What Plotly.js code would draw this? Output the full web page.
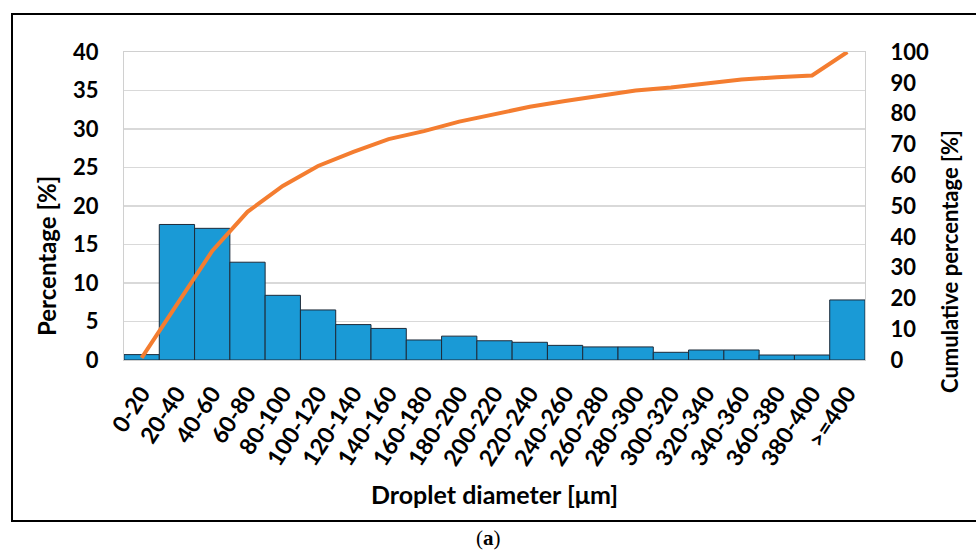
<!DOCTYPE html>
<html>
<head>
<meta charset="utf-8">
<script src="https://cdn.plot.ly/plotly-3.0.1.min.js"></script>
<style>html,body{margin:0;padding:0;background:#fff;}#chart{width:976px;height:551px;}</style>
</head>
<body>
<div id="chart"></div>
<script>
const categories = ["0-20","20-40","40-60","60-80","80-100","100-120","120-140","140-160","160-180","180-200","200-220","220-240","240-260","260-280","280-300","300-320","320-340","340-360","360-380","380-400",">=400"];
const percentage = [0.7,17.6,17.1,12.7,8.4,6.5,4.6,4.1,2.6,3.1,2.5,2.3,1.9,1.7,1.7,1.0,1.3,1.3,0.65,0.65,7.8];
const cumulative = [0.7,18.3,35.4,48.1,56.5,63.0,67.6,71.7,74.3,77.4,79.9,82.2,84.1,85.8,87.5,88.5,89.8,91.1,91.8,92.4,100];
const leftTicks = [0,5,10,15,20,25,30,35,40];
const rightTicks = [0,10,20,30,40,50,60,70,80,90,100];

const FONT = "Lato, 'Open Sans', sans-serif";
const L = 124, R = 865, T = 52, B = 360;
const px = x => (x - L) / (R - L);
const py = y => (B - y) / (B - T);

const traces = [
  {type:'bar', x:categories, y:percentage, yaxis:'y',
   marker:{color:'#1A9AD6', line:{color:'#1E2B3A', width:1}}, hoverinfo:'x+y'},
  {type:'scatter', mode:'lines', x:categories, y:cumulative, yaxis:'y2',
   line:{color:'#F47D30', width:4}, cliponaxis:false}
];

const layout = {
  width:976, height:551,
  margin:{l:L, r:976-R, t:T, b:551-B},
  paper_bgcolor:'#fff', plot_bgcolor:'#fff',
  showlegend:false, bargap:0,
  font:{family:FONT, color:'#000'},
  xaxis:{type:'category', range:[-0.5,20.5], tickangle:-57,
    tickfont:{family:FONT, size:23, color:'#000', weight:'bold'},
    ticks:'outside', ticklen:10, tickcolor:'rgba(0,0,0,0)',
    showline:true, linecolor:'#D0D0D0', linewidth:1, mirror:true, showgrid:false, zeroline:false},
  yaxis:{range:[0,40], tickvals:leftTicks, ticktext:leftTicks.map(String),
    tickfont:{family:FONT, size:22, color:'#000', weight:'bold'},
    ticks:'outside', ticklen:20, tickcolor:'rgba(0,0,0,0)',
    showgrid:true, gridcolor:'#D9D9D9', gridwidth:1.5, zeroline:false,
    showline:true, linecolor:'#D0D0D0', linewidth:1, mirror:true},
  yaxis2:{range:[0,100], overlaying:'y', side:'right', tickvals:rightTicks, ticktext:rightTicks.map(String),
    tickfont:{family:FONT, size:22, color:'#000', weight:'bold'},
    ticks:'outside', ticklen:20, tickcolor:'rgba(0,0,0,0)',
    showgrid:false, zeroline:false, showline:false},
  annotations:[
    {text:'Percentage [%]', xref:'paper', yref:'paper', x:px(46), y:py(256), textangle:-90,
     showarrow:false, xanchor:'center', yanchor:'middle', font:{family:FONT, size:24, color:'#000', weight:'bold'}},
    {text:'Cumulative percentage [%]', xref:'paper', yref:'paper', x:px(949), y:py(262), textangle:-90,
     showarrow:false, xanchor:'center', yanchor:'middle', font:{family:FONT, size:22, color:'#000', weight:'bold'}},
    {text:'Droplet diameter [μm]', xref:'paper', yref:'paper', x:px(494), y:py(494),
     showarrow:false, xanchor:'center', yanchor:'middle', font:{family:FONT, size:25, color:'#000', weight:'bold'}},
    {text:'(<b>a</b>)', xref:'paper', yref:'paper', x:px(488), y:py(538),
     showarrow:false, xanchor:'center', yanchor:'middle', font:{family:"'Liberation Serif', serif", size:21, color:'#000'}}
  ],
  shapes:[
    {type:'rect', xref:'paper', yref:'paper', x0:px(12), x1:px(990), y0:py(521), y1:py(14),
     line:{color:'#000', width:2}, fillcolor:'rgba(0,0,0,0)', layer:'below'}
  ]
};

Plotly.newPlot('chart', traces, layout, {displayModeBar:false, staticPlot:true});
</script>
</body>
</html>
